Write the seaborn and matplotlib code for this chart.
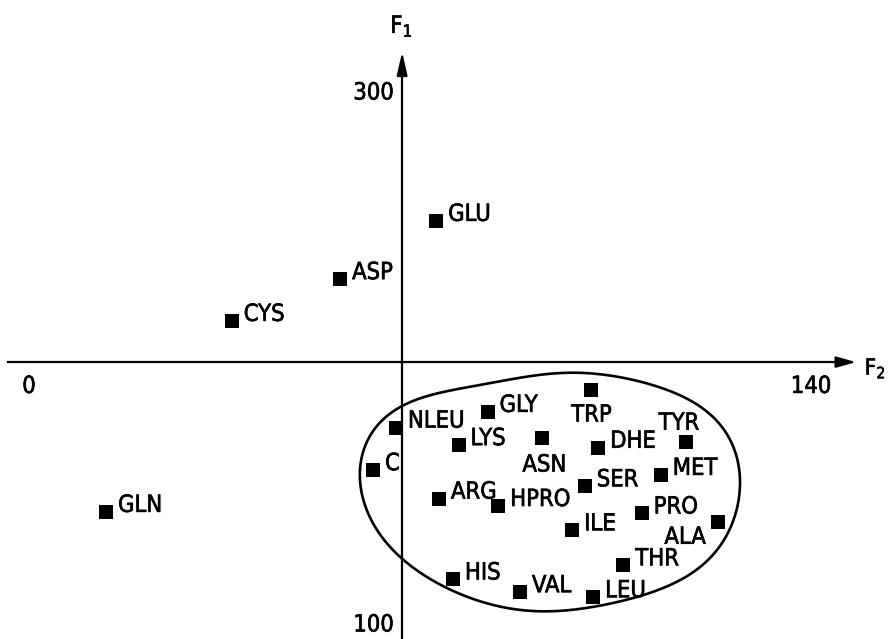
import numpy as np
import pandas as pd
import matplotlib
matplotlib.use("Agg")
import matplotlib.pyplot as plt
import matplotlib.patheffects as pe
import seaborn as sns

# ---- data ----
names = ["GLU", "ASP", "CYS", "GLN", "C", "NLEU", "GLY", "LYS", "TRP", "ASN",
         "DHE", "TYR", "MET", "SER", "ARG", "HPRO", "PRO", "ALA", "ILE", "THR",
         "HIS", "VAL", "LEU"]
f2 = [72.9, 55.7, 36.3, 13.8, 61.6, 65.7, 82.1, 76.9, 100.7, 91.9,
      101.9, 117.6, 113.1, 99.5, 73.4, 84.0, 109.7, 123.3, 97.2, 106.4,
      75.9, 87.9, 101.0]
f1 = [250.8, 228.9, 213.2, 141.4, 157.1, 173.1, 179.0, 166.5, 187.2, 169.2,
      165.5, 167.8, 155.3, 151.0, 146.4, 143.6, 140.8, 137.6, 134.6, 121.3,
      116.0, 111.2, 109.3]
x_ticks = [0, 140]
y_ticks = [100, 300]
axis_cross_f2 = 66.8
axis_cross_f1 = 197.7

# outline of the enclosed group (data units)
blob_f2 = [59.3, 59.8, 62.3, 66.4, 75.4, 82.5, 91.5, 97.4, 106.3, 114.2, 120.1,
           125.0, 126.7, 127.3, 126.0, 123.2, 118.3, 112.4, 103.5, 95.1, 85.6,
           73.6, 66.4, 61.6]
blob_f1 = [157.1, 147.0, 134.6, 124.4, 112.0, 107.1, 103.8, 104.5, 108.3, 113.2,
           120.7, 132.0, 145.9, 157.1, 165.8, 175.9, 183.5, 188.3, 192.9, 193.6,
           191.0, 186.1, 180.8, 172.2]

df = pd.DataFrame({"name": names, "F2": f2, "F1": f1})

sns.set_theme(style="white")
plt.rcParams["font.family"] = ["DejaVu Sans"]
plt.rcParams["font.stretch"] = "condensed"
plt.rcParams["mathtext.fontset"] = "dejavusans"

fig = plt.figure(figsize=(8.88, 6.39), dpi=100)
ax = fig.add_axes([0, 0, 1, 1])
ax.set_facecolor("white")

sns.scatterplot(data=df, x="F2", y="F1", marker="s", s=105, color="black",
                linewidth=0, ax=ax, zorder=5)

# smooth closed outline: low-order Fourier fit through the traced points
def fourier_closed(xs, ys, harmonics=6, n=400):
    P = np.column_stack([xs, ys]).astype(float)
    Q = P * np.array([5.586, 2.66])
    d = np.sqrt(((np.roll(Q, -1, axis=0) - Q) ** 2).sum(axis=1))
    s = np.concatenate([[0], np.cumsum(d)[:-1]]) / d.sum() * 2 * np.pi
    def basis(u):
        cols = [np.ones_like(u)]
        for k in range(1, harmonics + 1):
            cols += [np.cos(k * u), np.sin(k * u)]
        return np.column_stack(cols)
    A = basis(s)
    cx = np.linalg.lstsq(A, P[:, 0], rcond=None)[0]
    cy = np.linalg.lstsq(A, P[:, 1], rcond=None)[0]
    B = basis(np.linspace(0, 2 * np.pi, n))
    return B @ cx, B @ cy

bx, by = fourier_closed(blob_f2, blob_f1)
ax.plot(bx, by, color="black", lw=1.9, zorder=3)

stroke = [pe.withStroke(linewidth=0.45, foreground="black")]

# point labels
special = {
    "TRP": dict(xytext=(0, -9.0), ha="center", va="top"),
    "TYR": dict(xytext=(-5, 8.6), ha="center", va="baseline"),
    "ASN": dict(xytext=(1.5, -10.5), ha="center", va="top"),
    "ALA": dict(xytext=(-8.6, -2.0), ha="right", va="top"),
}
for n_, x_, y_ in zip(names, f2, f1):
    kw = special.get(n_, dict(xytext=(8.6, 0), ha="left", va="baseline"))
    ax.annotate(n_, (x_, y_), textcoords="offset points", fontsize=17,
                color="black", zorder=6, path_effects=stroke, **kw)

# axes through the data
ax.set_xlim(-5.19, 153.78)
ax.set_ylim(93.61, 333.83)
for s in ["top", "right"]:
    ax.spines[s].set_visible(False)
ax.spines["bottom"].set_position(("data", axis_cross_f1))
ax.spines["left"].set_position(("data", axis_cross_f2))
ax.spines["bottom"].set_bounds(-3.7, 146.0)
ax.spines["left"].set_bounds(93.61, 308.0)
for s in ["bottom", "left"]:
    ax.spines[s].set_color("black")
    ax.spines[s].set_linewidth(1.6)

ax.set_xticks(x_ticks)
ax.set_yticks(y_ticks)
ax.tick_params(axis="both", direction="in", length=13.7, width=1.4,
               colors="black", labelsize=17)
ax.tick_params(axis="x", pad=8.5)
ax.tick_params(axis="y", pad=6.0)
for lab in ax.get_xticklabels() + ax.get_yticklabels():
    lab.set_path_effects(stroke)
ax.set_xlabel("")
ax.set_ylabel("")
ax.grid(False)

# arrow heads
ax.annotate("", xy=(148.05, axis_cross_f1), xytext=(144.5, axis_cross_f1),
            arrowprops=dict(arrowstyle="-|>,head_length=0.6,head_width=0.17",
                            mutation_scale=20, color="black", lw=1.5,
                            shrinkA=0, shrinkB=0))
ax.annotate("", xy=(axis_cross_f2, 314.3), xytext=(axis_cross_f2, 305.0),
            arrowprops=dict(arrowstyle="-|>,head_length=0.7,head_width=0.16",
                            mutation_scale=20, color="black", lw=1.5,
                            shrinkA=0, shrinkB=0))

ax.text(axis_cross_f2 - 0.1, 321.5, r"F$_1$", fontsize=17, ha="center",
        va="baseline", color="black", path_effects=stroke)
ax.text(149.6, 193.0, r"F$_2$", fontsize=16, ha="left", va="baseline",
        color="black", path_effects=stroke)

fig.savefig("out.png", dpi=100, facecolor="white")
